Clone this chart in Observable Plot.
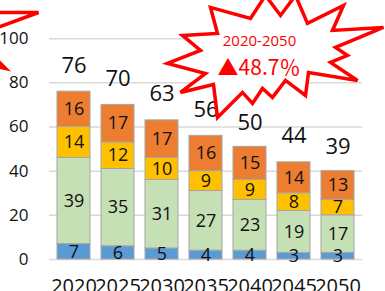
<!DOCTYPE html>
<html>
<head>
<meta charset="utf-8">
<script src="https://cdn.jsdelivr.net/npm/d3@7"></script>
<script src="https://cdn.jsdelivr.net/npm/@observablehq/plot@0.6"></script>
<style>
  html, body { margin: 0; padding: 0; background: #fff; overflow: hidden; }
  #chart svg { display: block; overflow: visible; }
</style>
</head>
<body>
<div id="chart"></div>
<script>
// ---- data ----
const years = ["2020", "2025", "2030", "2035", "2040", "2045", "2050"];
const seriesNames = ["s1", "s2", "s3", "s4"];
const seriesColors = ["#5B9BD5", "#C5E0B4", "#FFC000", "#ED7D31"];
const blueValues = [7, 6, 5, 4, 4, 3, 3];
const greenValues = [39, 35, 31, 27, 23, 19, 17];
const yellowValues = [14, 12, 10, 9, 9, 8, 7];
const orangeValues = [16, 17, 17, 16, 15, 14, 13];
const totals = [76, 70, 63, 56, 50, 44, 39];
const yTicks = [0, 20, 40, 60, 80, 100, 120];
const calloutLine1 = "2020-2050";
const calloutLine2 = "▲48.7％";

// ---- build long table ----
const seriesValues = [blueValues, greenValues, yellowValues, orangeValues];
const table = [];
years.forEach((yr, i) => {
  seriesNames.forEach((s, j) => table.push({year: yr, series: s, value: seriesValues[j][i]}));
});
const totalRows = years.map((yr, i) => ({year: yr, total: totals[i]}));

// ---- decorative starburst shapes (custom symbols) ----
const burstPts = [[-98,6],[-65,-7],[-83,-22],[-48,-24],[-55,-50],[-15,-39],[0,-62],[15,-42],[30,-62],[42,-34],
  [78,-52],[67,-27],[118,-30],[70,-10],[82,-2],[65,5],[92,23],[43,15],[40,38],[20,23],[7,40],[-3,31],
  [-13,46],[-23,35],[-48,60],[-52,27],[-85,35],[-60,16]];
const burst2Pts = [[-60,-30],[-15,-28],[51,-28],[10,-13],[0,10],[18,28],[-8,22],[-60,40]];
function polySymbol(pts) {
  return {
    draw(context, size) {
      const s = Math.sqrt(size / Math.PI) / 10;
      pts.forEach(([px, py], k) => k === 0 ? context.moveTo(px * s, py * s) : context.lineTo(px * s, py * s));
      context.closePath();
    }
  };
}

const font = "'Open Sans', 'Liberation Sans', sans-serif";

const chart = Plot.plot({
  width: 385,
  height: 291,
  marginLeft: 49,
  marginRight: 23,
  marginTop: 0,
  marginBottom: 32,
  style: {fontFamily: font, background: "#fff", color: "#111"},
  x: {type: "band", domain: years, paddingInner: 0.24, paddingOuter: 0.12, label: null},
  y: {domain: [0, 120], range: [259, -6], label: null},
  color: {type: "ordinal", domain: seriesNames, range: seriesColors},
  marks: [
    Plot.ruleY(yTicks, {stroke: "#D9D9D9", strokeWidth: 1.5}),
    Plot.axisY({ticks: yTicks, tickSize: 0, tickPadding: 21, fontSize: 17, label: null}),
    Plot.axisX({tickSize: 0, tickPadding: 19, fontSize: 20, label: null}),
    Plot.barY(table, {x: "year", y: "value", z: "series", fill: "series", order: seriesNames,
      stroke: "#A6A6A6", strokeWidth: 1}),
    Plot.text(table, Plot.stackY({x: "year", y: "value", z: "series", order: seriesNames,
      text: "value", fontSize: 18, fill: "#111"})),
    Plot.text(totalRows, {x: "year", y: "total", text: "total", dy: -26, fontSize: 22, fill: "#111"}),
    Plot.dot([0], {frameAnchor: "top-left", dx: -62, dy: 40, r: 10, symbol: polySymbol(burst2Pts),
      fill: "#fff", stroke: "#FF0000", strokeWidth: 3.5, strokeLinejoin: "miter"}),
    Plot.dot([0], {x: () => "2040", y: () => 91.5, dx: 15.5, r: 10, symbol: polySymbol(burstPts),
      fill: "#fff", stroke: "#FF0000", strokeWidth: 3.5, strokeLinejoin: "miter"}),
    Plot.text([calloutLine1], {x: () => "2040", y: () => 91.5, dx: 9.5, dy: -16, text: d => d,
      fontSize: 15, fill: "#FF0000"}),
    Plot.text([calloutLine2], {x: () => "2040", y: () => 91.5, dx: 9, dy: 11, text: d => d,
      fontSize: 21, fill: "#FF0000", fontFamily: "'Noto Sans CJK JP', 'Open Sans', sans-serif"})
  ]
});
document.getElementById("chart").append(chart);
</script>
</body>
</html>
